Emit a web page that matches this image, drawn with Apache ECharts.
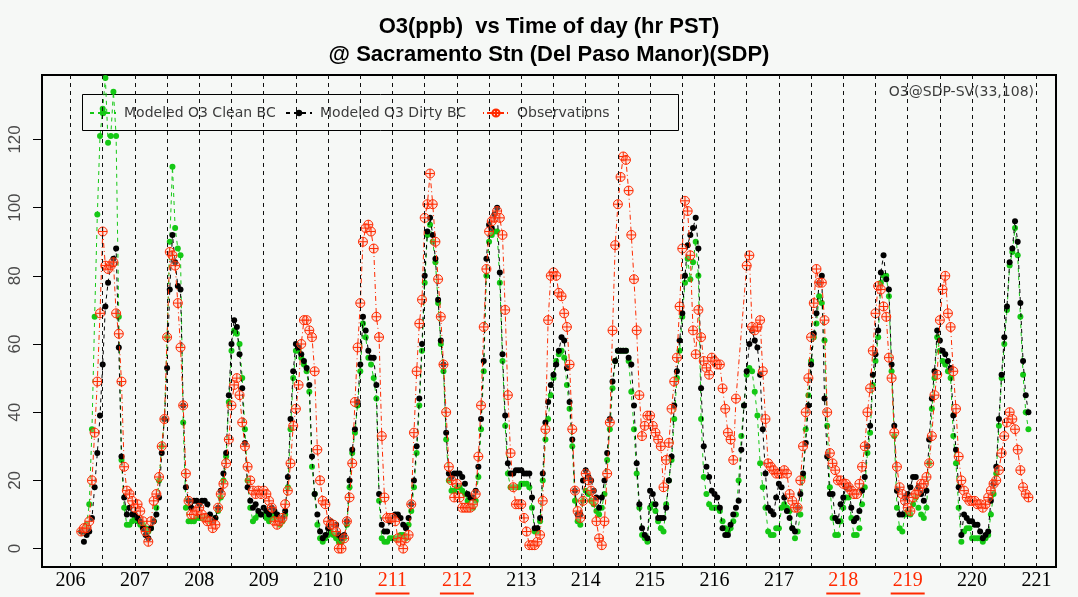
<!DOCTYPE html>
<html>
<head>
<meta charset="utf-8">
<script src="https://cdn.jsdelivr.net/npm/echarts@6/dist/echarts.min.js"></script>
<style>
  html, body { margin: 0; padding: 0; background: #f6f8f6; }
  #chart { width: 1078px; height: 597px; }
</style>
</head>
<body>
<div id="chart"></div>
<script>
// Hourly ozone (ppb) at Sacramento / Del Paso Manor, one row of 24 hours per day,
// starting with Julian day 206 hour 0 (PST). null = no value for that hour.
const firstDay = 206;
const dayLabels = [206, 207, 208, 209, 210, 211, 212, 213, 214, 215, 216, 217, 218, 219, 220, 221];
const weekendDays = [211, 212, 218, 219];
const yTicks = [0, 20, 40, 60, 80, 100, 120];

const cleanBC = [
  [null, null, null, null, 5, 5, 7, 13, 35, 68, 98, 121, 129, 138, 119, 121, 134, 121, 68, 26, 12, 7, 7, 8],
  [9, 8, 7, 7, 6, 5, 6, 8, 12, 20, 30, 38, 62, 90, 112, 94, 88, 86, 37, 12, 8, 8, 8, 9],
  [9, 9, 9, 9, 8, 8, 9, 11, 15, 20, 27, 43, 58, 64, 63, 60, 50, 35, 20, 12, 8, 9, 10, 10],
  [10, 9, 8, 9, 10, 9, 7, 8, 10, 18, 35, 50, 58, 58, 56, 54, 52, 46, 24, 16, 7, 3, 2, 3],
  [4, 5, 4, 3, 2, 2, 3, 7, 18, 28, 34, 42, 52, 66, 62, 56, 54, 50, 44, 14, 3, 2, 2, 3],
  [3, 3, 3, 4, 4, 3, 7, 11, 18, 28, 42, 58, 78, 92, 95, 90, 84, 72, 60, 52, 32, 20, 17, 17],
  [18, 18, 17, 16, 14, 12, 12, 14, 21, 35, 52, 80, 90, 92, 93, 93, 78, 55, 36, 22, 18, 18, 18, 18],
  [19, 19, 19, 18, 12, 5, 5, 8, 20, 32, 38, 45, 50, 55, 57, 58, 56, 48, 41, 30, 14, 8, 7, 14],
  [17, 16, 14, 13, 11, 10, 12, 16, 26, 35, 47, 55, 58, 58, 58, 58, 55, 46, 35, 22, 12, 4, 3, 2],
  [12, 13, 11, 8, 6, 5, 13, 20, 26, 38, 50, 58, 68, 78, 85, 79, 84, 90, 80, 38, 21, 16, 13, 12],
  [12, 12, 11, 8, 6, 5, 6, 8, 10, 20, 33, 42, 51, 53, 52, 46, 39, 25, 18, 12, 5, 4, 4, 6],
  [6, 12, 13, 12, 11, 6, 3, 5, 10, 21, 35, 45, 55, 62, 66, 74, 72, 61, 36, 18, 9, 4, 4, 8],
  [12, 15, 15, 9, 4, 4, 6, 13, 18, 28, 34, 48, 55, 62, 78, 80, 80, 74, 52, 33, 12, 6, 5, 10],
  [11, 10, 13, 15, 12, 10, 9, 12, 25, 41, 50, 62, 58, 55, 54, 52, 50, 33, 25, 12, 2, 5, 6, 6],
  [3, 3, 3, 3, 2, 3, 4, 10, 16, 22, 36, 50, 60, 70, 83, 87, 94, 86, 68, 51, 40, 35, null, null]
];

const dirtyBC = [
  [null, null, null, null, 5, 2, 4, 5, 9, 18, 28, 39, 54, 71, 78, 83, 85, 88, 59, 27, 15, 10, 12, 10],
  [10, 9, 8, 6, 4, 3, 6, 8, 10, 15, 28, 38, 53, 76, 92, 84, 77, 76, 42, 18, 14, 12, 14, 14],
  [13, 14, 14, 13, 10, 8, 9, 12, 17, 22, 28, 45, 60, 67, 65, 57, 47, 31, 18, 14, 12, 13, 11, 10],
  [12, 11, 10, 12, 11, 10, 8, 9, 11, 21, 38, 52, 60, 59, 57, 55, 53, 48, 27, 16, 10, 5, 3, 4],
  [6, 8, 7, 7, 4, 3, 4, 8, 20, 29, 35, 43, 54, 68, 64, 58, 56, 56, 48, 16, 7, 5, 5, 8],
  [9, 10, 10, 9, 7, 6, 9, 13, 20, 30, 44, 60, 80, 93, 97, 92, 85, 73, 61, 54, 34, 22, 21, 22],
  [22, 22, 21, 19, 16, 15, 15, 17, 24, 38, 55, 85, 95, 94, 98, 100, 81, 57, 39, 25, 22, 22, 23, 23],
  [23, 22, 22, 22, 15, 6, 6, 9, 22, 37, 43, 48, 51, 54, 58, 62, 61, 53, 43, 32, 17, 10, 10, 20],
  [23, 21, 20, 17, 15, 12, 15, 20, 28, 38, 49, 55, 58, 58, 58, 58, 56, 54, 42, 25, 13, 6, 4, 3],
  [17, 16, 13, 9, 9, 9, 12, 20, 27, 42, 52, 61, 69, 80, 89, 92, 94, 97, 88, 47, 30, 24, 21, 17],
  [16, 15, 12, 6, 4, 4, 7, 10, 12, 14, 29, 42, 52, 60, 64, 61, 59, 51, 35, 22, 12, 11, 10, 15],
  [19, 18, 15, 11, 9, 6, 5, 12, 16, 22, 31, 42, 54, 63, 69, 78, 80, 44, 27, 16, 16, 9, 8, 13],
  [15, 18, 18, 12, 8, 9, 11, 17, 21, 30, 36, 51, 57, 64, 81, 86, 79, 76, 54, 36, 17, 10, 10, 15],
  [16, 18, 21, 21, 18, 16, 14, 17, 32, 44, 52, 64, 61, 58, 57, 55, 53, 39, 29, 18, 4, 10, 9, 8],
  [8, 7, 7, 5, 3, 4, 5, 14, 19, 24, 38, 51, 62, 71, 84, 88, 96, 90, 72, 55, 45, 40, null, null]
];

const observed = [
  [null, null, null, null, 5, 6, 6, 8, 20, 34, 49, 69, 93, 83, 82, 83, 84, 69, 63, 49, 24, 17, 16, 14],
  [12, 13, 11, 8, 5, 2, 8, 14, 16, 21, 30, 38, 62, 87, 86, 83, 72, 59, 42, 22, 14, 10, 10, 11],
  [12, 10, 9, 8, 8, 6, 7, 12, 16, 19, 25, 32, 42, 48, 50, 45, 37, 30, 24, 20, 17, 16, 17, 16],
  [17, 16, 14, 12, 8, 7, 8, 9, 13, 17, 25, 36, 41, 48, 60, 67, 67, 64, 62, 52, 29, 20, 14, 13],
  [8, 7, 7, 5, 0, 0, 3, 8, 15, 25, 43, 59, 72, 90, 94, 95, 93, 88, 68, 62, 33, 15, 9, 9],
  [9, 8, 3, 2, 0, 3, 4, 13, 34, 52, 66, 73, 97, 101, 110, 101, 90, 79, 68, 54, 40, 24, 20, 15],
  [19, 15, 12, 12, 12, 12, 13, 16, 27, 42, 65, 82, 93, 96, 97, 99, 97, 92, 70, 45, 28, 18, 13, 13],
  [13, 9, 5, 1, 1, 1, 2, 4, 14, 35, 67, 80, 81, 80, 75, 74, 69, 65, 54, 35, 17, 11, 9, 14],
  [22, 20, 17, 14, 8, 3, 1, 8, 22, 37, 64, 89, 101, 109, 115, 114, 105, 92, 79, 64, 45, 33, 36, 39],
  [39, 36, 34, 32, 30, 18, 26, 31, 41, 49, 56, 71, 88, 102, 99, 86, 64, 57, 70, 62, 55, 53, 51, 56],
  [55, 54, 54, 47, 41, 34, 32, 26, 44, null, null, null, 83, 86, 65, 64, 65, 67, 52, 38, 25, 24, 23, 22],
  [22, 22, 23, 22, 16, 14, 12, 12, 20, 30, 40, 50, 62, 72, 82, 78, 78, 67, 40, 28, 25, 23, 20, 20],
  [19, 19, 18, 17, 16, 16, 19, 24, 30, 40, 47, 58, 69, 77, 76, 71, 68, 56, 50, 34, 24, 18, 16, 14],
  [12, 11, 15, 16, 17, 19, 19, 21, 25, 33, 45, 51, 67, 76, 80, 69, 65, 52, 41, 27, 20, 17, 15, 14],
  [14, 14, 13, 13, 12, 13, 15, 17, 19, 20, 23, 28, 33, 37, 40, 38, 35, 29, 23, 18, 16, 15, null, null]
];

// Flatten day rows into [fractional Julian day, value] pairs, skipping missing hours.
function toPoints(rows) {
  const pts = [];
  rows.forEach((row, d) => {
    row.forEach((v, h) => {
      if (v !== null) pts.push([firstDay + d + h / 24, v]);
    });
  });
  return pts;
}

// Dashed guides at every day and half day.
const guideDays = [];
dayLabels.forEach((d, i) => {
  guideDays.push(d);
  if (i < dayLabels.length - 1) guideDays.push(d + 0.5);
});

const GREEN = '#14c814';
const RED = '#ff2a00';
const circlePlus = 'path://M20,10A10,10,0,1,1,0,10A10,10,0,1,1,20,10ZM0,10L20,10M10,0L10,20';

const legendText = { fontFamily: 'DejaVu Sans', fontSize: 14, color: '#3c3c3c', padding: [0, 0, 0, 3] };

const chart = echarts.init(document.getElementById('chart'), null, { renderer: 'canvas' });
chart.setOption({
  animation: false,
  backgroundColor: '#f6f8f6',
  grid: {
    left: 42, top: 75, width: 1014, height: 492,
    show: true, borderColor: '#000', borderWidth: 2, backgroundColor: 'transparent'
  },
  xAxis: {
    type: 'value', min: 205.5575, max: 221.303,
    axisLine: { show: false }, axisTick: { show: false }, splitLine: { show: false },
    axisLabel: {
      customValues: dayLabels,
      margin: 3,
      formatter: v => weekendDays.indexOf(v) >= 0 ? '{w|' + v + '}\n{u| }' : '{n|' + v + '}',
      rich: {
        n: { fontFamily: 'Liberation Serif', fontSize: 20, color: '#000', lineHeight: 22 },
        w: { fontFamily: 'Liberation Serif', fontSize: 20, color: RED, lineHeight: 22 },
        u: { width: 34, height: 2, lineHeight: 3, backgroundColor: RED, fontSize: 1 }
      }
    }
  },
  yAxis: {
    type: 'value', min: -5.4, max: 138.9,
    axisLine: { show: false }, splitLine: { show: false },
    axisTick: { show: true, customValues: yTicks, length: 9, lineStyle: { color: '#000', width: 1 } },
    axisLabel: {
      customValues: yTicks, rotate: 90, margin: 18,
      fontFamily: 'Liberation Sans', fontSize: 17, color: '#4a4a4a'
    }
  },
  legend: [
    { data: ['Modeled O3 Clean BC'], left: 84, top: 101, itemWidth: 26, itemHeight: 8, selectedMode: false, textStyle: legendText },
    { data: ['Modeled O3 Dirty BC'], left: 280, top: 101, itemWidth: 26, itemHeight: 8, selectedMode: false, textStyle: legendText },
    { data: ['Observations'], left: 477, top: 101, itemWidth: 26, itemHeight: 9, selectedMode: false, textStyle: legendText }
  ],
  graphic: [
    { type: 'text', x: 549, y: 27, style: { text: 'O3(ppb)  vs Time of day (hr PST)', font: 'bold 22px "Liberation Sans"', fill: '#000', align: 'center', verticalAlign: 'middle' } },
    { type: 'text', x: 549, y: 55, style: { text: '@ Sacramento Stn (Del Paso Manor)(SDP)', font: 'bold 22px "Liberation Sans"', fill: '#000', align: 'center', verticalAlign: 'middle' } },
    { type: 'text', x: 1034, y: 92, style: { text: 'O3@SDP-SV(33,108)', font: '14px "DejaVu Sans"', fill: '#3c3c3c', align: 'right', verticalAlign: 'middle' } },
    { type: 'rect', shape: { x: 82.5, y: 94.5, width: 596, height: 36 }, style: { fill: 'none', stroke: '#000', lineWidth: 1 } }
  ],
  series: [
    {
      name: 'Modeled O3 Clean BC', type: 'line', data: toPoints(cleanBC),
      symbol: 'circle', symbolSize: 6, z: 2,
      itemStyle: { color: GREEN },
      lineStyle: { color: GREEN, width: 1, type: [4, 4] },
      markLine: {
        silent: true, symbol: 'none', label: { show: false },
        lineStyle: { color: '#111', width: 1, type: [4, 4] },
        data: guideDays.map(d => ({ xAxis: d }))
      }
    },
    {
      name: 'Modeled O3 Dirty BC', type: 'line', data: toPoints(dirtyBC),
      symbol: 'circle', symbolSize: 6, z: 3,
      itemStyle: { color: '#000' },
      lineStyle: { color: '#000', width: 1, type: [4, 4] }
    },
    {
      name: 'Observations', type: 'line', data: toPoints(observed),
      symbol: circlePlus, symbolSize: 9, z: 4,
      itemStyle: { color: 'rgba(255,190,175,0.35)', borderColor: RED, borderWidth: 1 },
      lineStyle: { color: RED, width: 1, type: [1, 3, 5, 3] }
    }
  ]
});
</script>
</body>
</html>
